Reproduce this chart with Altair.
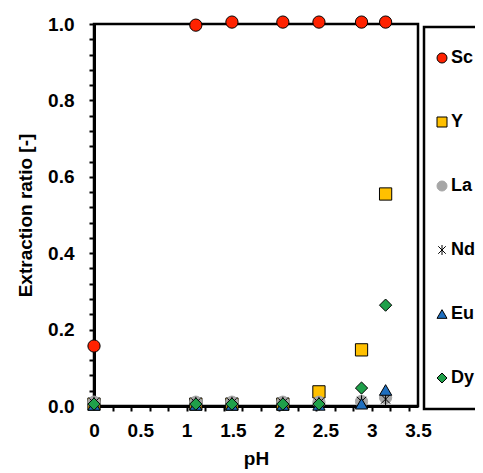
import altair as alt
import pandas as pd

# pH values (x)
ph = [0.0, 1.10, 1.49, 2.04, 2.43, 2.89, 3.15]

series_names = ["Sc", "Y", "La", "Nd", "Eu", "Dy"]
sc = [0.157, 0.997, 1.005, 1.005, 1.005, 1.005, 1.005]
yy = [0.005, 0.005, 0.005, 0.005, 0.037, 0.147, 0.555]
la = [0.010, 0.010, 0.010, 0.010, 0.010, 0.012, 0.022]
nd = [0.008, 0.008, 0.008, 0.008, 0.008, 0.012, 0.018]
eu = [0.003, 0.003, 0.003, 0.003, 0.003, 0.006, 0.042]
dy = [0.005, 0.005, 0.005, 0.005, 0.005, 0.047, 0.264]

fills = ["#FF2200", "#FFC000", "#A6A6A6", "transparent", "#1F6FBF", "#1FA04A"]
strokes = ["#000000", "#000000", "#A6A6A6", "#000000", "#000000", "#000000"]
ASTERISK = "M-0.75,-0.75L0.75,0.75M-0.75,0.75L0.75,-0.75M0,-1L0,1"
shapes = ["circle", "square", "circle", ASTERISK, "triangle-up", "diamond"]

x_tick_values = [round(i * 0.1, 1) for i in range(36)]
y_tick_values = [round(i * 0.04, 2) for i in range(26)]

rows = []
for name, vals in zip(series_names, [sc, yy, la, nd, eu, dy]):
    for p, v in zip(ph, vals):
        rows.append({"pH": p, "ratio": v, "element": name})
df = pd.DataFrame(rows)

FONT = "Liberation Sans"
FS = 19

x_axis = alt.Axis(
    values=x_tick_values,
    labelExpr="abs(datum.value*2 - round(datum.value*2)) < 0.001 ? toString(datum.value) : ''",
    tickOpacity={"condition": {"test": "abs(datum.value*5 - round(datum.value*5)) < 0.001 && datum.value > 0.05", "value": 1}, "value": 0},
    labelFont=FONT, labelFontSize=FS, labelFontWeight="bold", labelColor="black",
    titleFont=FONT, titleFontSize=FS, titleFontWeight="bold", titleColor="black",
    tickColor="black", tickSize=5, tickWidth=2,
    domainColor="black", domainWidth=3, grid=False,
    labelPadding=10, titlePadding=9, labelOverlap=False, labelFlush=False,
)

y_axis = alt.Axis(
    values=y_tick_values,
    labelExpr="abs(datum.value*5 - round(datum.value*5)) < 0.001 ? format(datum.value, '.1f') : ''",
    labelFont=FONT, labelFontSize=FS, labelFontWeight="bold", labelColor="black",
    titleFont=FONT, titleFontSize=FS, titleFontWeight="bold", titleColor="black",
    tickColor="black", tickSize=5, tickWidth=2,
    domainColor="black", domainWidth=3, grid=False,
    labelPadding=15, titlePadding=12, labelOverlap=False, labelFlush=False,
)

leg = alt.Legend(
    orient="none", legendX=330, legendY=3,
    padding=22, rowPadding=46,
    labelFont=FONT, labelFontSize=18, labelFontWeight="bold", labelColor="black",
    labelOffset=0, symbolSize=100, symbolStrokeWidth=1, symbolOffset=-13,
    strokeColor="black", title=None,
)

chart = alt.Chart(df).mark_point(filled=True, strokeWidth=1, opacity=1, size=150).encode(
    x=alt.X("pH:Q", scale=alt.Scale(domain=[0, 3.5], nice=False, zero=False), axis=x_axis, title="pH"),
    y=alt.Y("ratio:Q", scale=alt.Scale(domain=[0, 1], nice=False), axis=y_axis, title="Extraction ratio [-]"),
    fill=alt.Fill("element:N", scale=alt.Scale(domain=series_names, range=fills), legend=leg),
    stroke=alt.Stroke("element:N", scale=alt.Scale(domain=series_names, range=strokes), legend=leg),
    shape=alt.Shape("element:N", scale=alt.Scale(domain=series_names, range=shapes), legend=leg),
).properties(
    width=324, height=382,
    autosize=alt.AutoSizeParams(type="none"),
    padding={"left": 86, "top": 16, "right": 57, "bottom": 66},
    background="white",
).configure_view(
    stroke="black", strokeWidth=2.5
).configure_legend(
    strokeWidth=2.5,
)

chart.save("out.html", embed_options={"renderer": "svg", "actions": False})
